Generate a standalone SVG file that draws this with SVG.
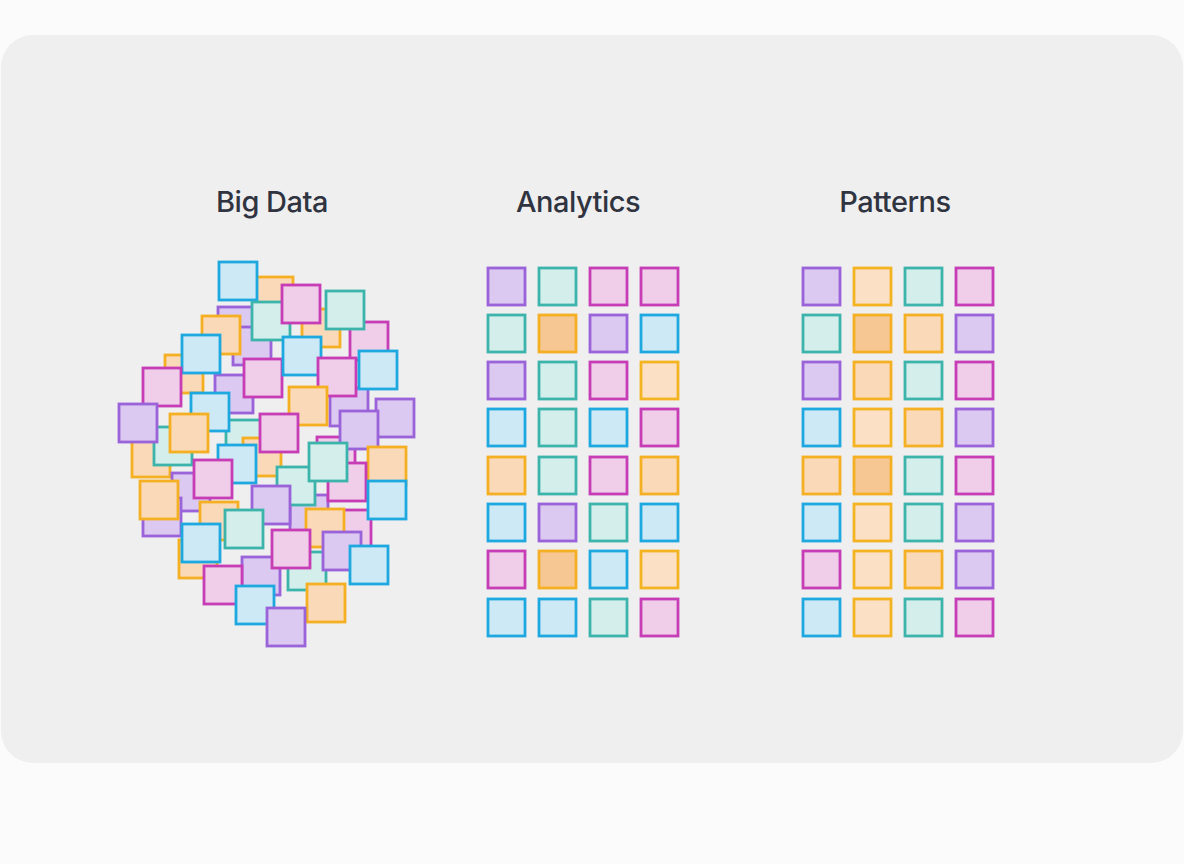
<svg xmlns="http://www.w3.org/2000/svg" width="1184" height="864" viewBox="0 0 1184 864">
<style>
rect.s{stroke-width:2.8}
.pu{fill:#dcc9f1;stroke:#9a63da}
.te{fill:#d4eeeb;stroke:#3db4ab}
.ma{fill:#f0cde9;stroke:#c63db6}
.bl{fill:#cde9f6;stroke:#1ea8e0}
.or{fill:#fad9b8;stroke:#f4af22}
.od{fill:#f6c793;stroke:#f4af22}
.ol{fill:#fbe0c6;stroke:#f4b422}
.t{font-family:Inter,"Liberation Sans",sans-serif;font-size:29px;font-weight:500;fill:#2f3440;text-anchor:middle;letter-spacing:-0.5px}
</style>
<rect width="1184" height="864" fill="#fbfbfb"/>
<rect id="panel" x="1" y="35" width="1182" height="728" rx="32" fill="#efeff0"/>
<g id="titles">
<text class="t" x="272" y="212">Big Data</text>
<text class="t" x="578" y="212">Analytics</text>
<text class="t" x="895" y="212">Patterns</text>
</g>
<g id="bigdata">
<rect class="s or" x="255" y="277" width="38" height="38"/>
<rect class="s pu" x="218" y="307" width="38" height="38"/>
<rect class="s or" x="302" y="309" width="38" height="38"/>
<rect class="s ma" x="350" y="322" width="38" height="38"/>
<rect class="s pu" x="233" y="327" width="38" height="38"/>
<rect class="s or" x="165" y="355" width="38" height="38"/>
<rect class="s pu" x="215" y="375" width="38" height="38"/>
<rect class="s te" x="226" y="420" width="38" height="38"/>
<rect class="s pu" x="330" y="388" width="38" height="38"/>
<rect class="s ma" x="317" y="437" width="38" height="38"/>
<rect class="s or" x="132" y="439" width="38" height="38"/>
<rect class="s or" x="243" y="438" width="38" height="38"/>
<rect class="s pu" x="172" y="473" width="38" height="38"/>
<rect class="s pu" x="143" y="498" width="38" height="38"/>
<rect class="s or" x="200" y="502" width="38" height="38"/>
<rect class="s pu" x="290" y="495" width="38" height="38"/>
<rect class="s ma" x="333" y="510" width="38" height="38"/>
<rect class="s or" x="179" y="540" width="38" height="38"/>
<rect class="s te" x="288" y="552" width="38" height="38"/>
<rect class="s pu" x="242" y="557" width="38" height="38"/>
<rect class="s bl" x="219" y="262" width="38" height="38"/>
<rect class="s te" x="252" y="302" width="38" height="38"/>
<rect class="s ma" x="282" y="285" width="38" height="38"/>
<rect class="s te" x="326" y="291" width="38" height="38"/>
<rect class="s or" x="202" y="316" width="38" height="38"/>
<rect class="s bl" x="182" y="335" width="38" height="38"/>
<rect class="s ma" x="244" y="359" width="38" height="38"/>
<rect class="s bl" x="283" y="337" width="38" height="38"/>
<rect class="s ma" x="318" y="358" width="38" height="38"/>
<rect class="s bl" x="359" y="351" width="38" height="38"/>
<rect class="s ma" x="143" y="368" width="38" height="38"/>
<rect class="s or" x="289" y="387" width="38" height="38"/>
<rect class="s bl" x="191" y="393" width="38" height="38"/>
<rect class="s te" x="154" y="427" width="38" height="38"/>
<rect class="s pu" x="119" y="404" width="38" height="38"/>
<rect class="s pu" x="376" y="399" width="38" height="38"/>
<rect class="s pu" x="340" y="411" width="38" height="38"/>
<rect class="s or" x="170" y="414" width="38" height="38"/>
<rect class="s ma" x="260" y="414" width="38" height="38"/>
<rect class="s or" x="368" y="447" width="38" height="38"/>
<rect class="s bl" x="218" y="445" width="38" height="38"/>
<rect class="s te" x="277" y="467" width="38" height="38"/>
<rect class="s ma" x="328" y="463" width="38" height="38"/>
<rect class="s te" x="309" y="443" width="38" height="38"/>
<rect class="s ma" x="194" y="460" width="38" height="38"/>
<rect class="s bl" x="368" y="481" width="38" height="38"/>
<rect class="s or" x="140" y="481" width="38" height="38"/>
<rect class="s pu" x="252" y="486" width="38" height="38"/>
<rect class="s te" x="225" y="510" width="38" height="38"/>
<rect class="s or" x="306" y="509" width="38" height="38"/>
<rect class="s bl" x="182" y="524" width="38" height="38"/>
<rect class="s ma" x="272" y="530" width="38" height="38"/>
<rect class="s pu" x="323" y="532" width="38" height="38"/>
<rect class="s bl" x="350" y="546" width="38" height="38"/>
<rect class="s ma" x="204" y="566" width="38" height="38"/>
<rect class="s bl" x="236" y="586" width="38" height="38"/>
<rect class="s or" x="307" y="584" width="38" height="38"/>
<rect class="s pu" x="267" y="608" width="38" height="38"/>
</g>
<g id="analytics">
<rect class="s pu" x="488" y="268" width="37" height="37"/>
<rect class="s te" x="539" y="268" width="37" height="37"/>
<rect class="s ma" x="590" y="268" width="37" height="37"/>
<rect class="s ma" x="641" y="268" width="37" height="37"/>
<rect class="s te" x="488" y="315" width="37" height="37"/>
<rect class="s od" x="539" y="315" width="37" height="37"/>
<rect class="s pu" x="590" y="315" width="37" height="37"/>
<rect class="s bl" x="641" y="315" width="37" height="37"/>
<rect class="s pu" x="488" y="362" width="37" height="37"/>
<rect class="s te" x="539" y="362" width="37" height="37"/>
<rect class="s ma" x="590" y="362" width="37" height="37"/>
<rect class="s ol" x="641" y="362" width="37" height="37"/>
<rect class="s bl" x="488" y="409" width="37" height="37"/>
<rect class="s te" x="539" y="409" width="37" height="37"/>
<rect class="s bl" x="590" y="409" width="37" height="37"/>
<rect class="s ma" x="641" y="409" width="37" height="37"/>
<rect class="s or" x="488" y="457" width="37" height="37"/>
<rect class="s te" x="539" y="457" width="37" height="37"/>
<rect class="s ma" x="590" y="457" width="37" height="37"/>
<rect class="s or" x="641" y="457" width="37" height="37"/>
<rect class="s bl" x="488" y="504" width="37" height="37"/>
<rect class="s pu" x="539" y="504" width="37" height="37"/>
<rect class="s te" x="590" y="504" width="37" height="37"/>
<rect class="s bl" x="641" y="504" width="37" height="37"/>
<rect class="s ma" x="488" y="551" width="37" height="37"/>
<rect class="s od" x="539" y="551" width="37" height="37"/>
<rect class="s bl" x="590" y="551" width="37" height="37"/>
<rect class="s ol" x="641" y="551" width="37" height="37"/>
<rect class="s bl" x="488" y="599" width="37" height="37"/>
<rect class="s bl" x="539" y="599" width="37" height="37"/>
<rect class="s te" x="590" y="599" width="37" height="37"/>
<rect class="s ma" x="641" y="599" width="37" height="37"/>
</g>
<g id="patterns">
<rect class="s pu" x="803" y="268" width="37" height="37"/>
<rect class="s ol" x="854" y="268" width="37" height="37"/>
<rect class="s te" x="905" y="268" width="37" height="37"/>
<rect class="s ma" x="956" y="268" width="37" height="37"/>
<rect class="s te" x="803" y="315" width="37" height="37"/>
<rect class="s od" x="854" y="315" width="37" height="37"/>
<rect class="s or" x="905" y="315" width="37" height="37"/>
<rect class="s pu" x="956" y="315" width="37" height="37"/>
<rect class="s pu" x="803" y="362" width="37" height="37"/>
<rect class="s or" x="854" y="362" width="37" height="37"/>
<rect class="s te" x="905" y="362" width="37" height="37"/>
<rect class="s ma" x="956" y="362" width="37" height="37"/>
<rect class="s bl" x="803" y="409" width="37" height="37"/>
<rect class="s ol" x="854" y="409" width="37" height="37"/>
<rect class="s or" x="905" y="409" width="37" height="37"/>
<rect class="s pu" x="956" y="409" width="37" height="37"/>
<rect class="s or" x="803" y="457" width="37" height="37"/>
<rect class="s od" x="854" y="457" width="37" height="37"/>
<rect class="s te" x="905" y="457" width="37" height="37"/>
<rect class="s ma" x="956" y="457" width="37" height="37"/>
<rect class="s bl" x="803" y="504" width="37" height="37"/>
<rect class="s ol" x="854" y="504" width="37" height="37"/>
<rect class="s te" x="905" y="504" width="37" height="37"/>
<rect class="s pu" x="956" y="504" width="37" height="37"/>
<rect class="s ma" x="803" y="551" width="37" height="37"/>
<rect class="s ol" x="854" y="551" width="37" height="37"/>
<rect class="s or" x="905" y="551" width="37" height="37"/>
<rect class="s pu" x="956" y="551" width="37" height="37"/>
<rect class="s bl" x="803" y="599" width="37" height="37"/>
<rect class="s ol" x="854" y="599" width="37" height="37"/>
<rect class="s te" x="905" y="599" width="37" height="37"/>
<rect class="s ma" x="956" y="599" width="37" height="37"/>
</g>
</svg>
